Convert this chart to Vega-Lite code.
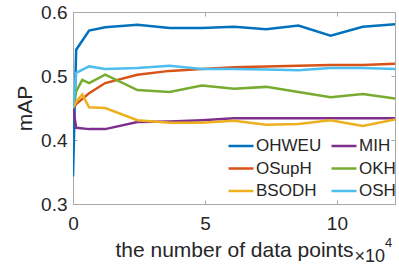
{
  "$schema": "https://vega.github.io/schema/vega-lite/v6.json",
  "width": 322,
  "height": 192,
  "autosize": "none",
  "padding": {"left": 73, "top": 12, "right": 4, "bottom": 62},
  "config": {
    "font": "Liberation Sans",
    "view": {"stroke": "#a8a8a8", "strokeWidth": 1},
    "axis": {
      "domainColor": "#a8a8a8",
      "tickColor": "#a8a8a8",
      "labelColor": "#262626",
      "titleColor": "#262626",
      "labelFont": "Liberation Sans",
      "titleFont": "Liberation Sans",
      "labelFontSize": 19,
      "titleFontSize": 21,
      "titleFontWeight": "normal",
      "grid": false,
      "tickSize": -4
    },
    "legend": {
      "labelFont": "Liberation Sans",
      "labelFontSize": 17,
      "labelColor": "#262626"
    }
  },
  "resolve": {"axis": {"x": "independent", "y": "independent"}},
  "datasets": {
    "lines": [
      {"x": 0, "y": 0.343, "method": "OHWEU"},
      {"x": 1200, "y": 0.541, "method": "OHWEU"},
      {"x": 6100, "y": 0.571, "method": "OHWEU"},
      {"x": 12200, "y": 0.576, "method": "OHWEU"},
      {"x": 24400, "y": 0.58, "method": "OHWEU"},
      {"x": 36600, "y": 0.575, "method": "OHWEU"},
      {"x": 48800, "y": 0.575, "method": "OHWEU"},
      {"x": 61000, "y": 0.577, "method": "OHWEU"},
      {"x": 73200, "y": 0.573, "method": "OHWEU"},
      {"x": 85400, "y": 0.579, "method": "OHWEU"},
      {"x": 97600, "y": 0.563, "method": "OHWEU"},
      {"x": 109800, "y": 0.577, "method": "OHWEU"},
      {"x": 122000, "y": 0.581, "method": "OHWEU"},

      {"x": 0, "y": 0.452, "method": "MIH"},
      {"x": 1200, "y": 0.419, "method": "MIH"},
      {"x": 6100, "y": 0.417, "method": "MIH"},
      {"x": 12200, "y": 0.417, "method": "MIH"},
      {"x": 24400, "y": 0.428, "method": "MIH"},
      {"x": 36600, "y": 0.429, "method": "MIH"},
      {"x": 48800, "y": 0.431, "method": "MIH"},
      {"x": 61000, "y": 0.434, "method": "MIH"},
      {"x": 73200, "y": 0.434, "method": "MIH"},
      {"x": 85400, "y": 0.434, "method": "MIH"},
      {"x": 97600, "y": 0.434, "method": "MIH"},
      {"x": 109800, "y": 0.434, "method": "MIH"},
      {"x": 122000, "y": 0.434, "method": "MIH"},

      {"x": 0, "y": 0.45, "method": "OSupH"},
      {"x": 1200, "y": 0.456, "method": "OSupH"},
      {"x": 6100, "y": 0.473, "method": "OSupH"},
      {"x": 12200, "y": 0.489, "method": "OSupH"},
      {"x": 24400, "y": 0.502, "method": "OSupH"},
      {"x": 36600, "y": 0.508, "method": "OSupH"},
      {"x": 48800, "y": 0.511, "method": "OSupH"},
      {"x": 61000, "y": 0.5135, "method": "OSupH"},
      {"x": 73200, "y": 0.515, "method": "OSupH"},
      {"x": 85400, "y": 0.516, "method": "OSupH"},
      {"x": 97600, "y": 0.517, "method": "OSupH"},
      {"x": 109800, "y": 0.517, "method": "OSupH"},
      {"x": 122000, "y": 0.519, "method": "OSupH"},

      {"x": 0, "y": 0.45, "method": "OKH"},
      {"x": 1200, "y": 0.476, "method": "OKH"},
      {"x": 3500, "y": 0.494, "method": "OKH"},
      {"x": 6100, "y": 0.489, "method": "OKH"},
      {"x": 12200, "y": 0.502, "method": "OKH"},
      {"x": 24400, "y": 0.478, "method": "OKH"},
      {"x": 36600, "y": 0.475, "method": "OKH"},
      {"x": 48800, "y": 0.485, "method": "OKH"},
      {"x": 61000, "y": 0.48, "method": "OKH"},
      {"x": 73200, "y": 0.483, "method": "OKH"},
      {"x": 85400, "y": 0.475, "method": "OKH"},
      {"x": 97600, "y": 0.467, "method": "OKH"},
      {"x": 109800, "y": 0.472, "method": "OKH"},
      {"x": 122000, "y": 0.465, "method": "OKH"},

      {"x": 0, "y": 0.45, "method": "BSODH"},
      {"x": 1200, "y": 0.46, "method": "BSODH"},
      {"x": 3500, "y": 0.471, "method": "BSODH"},
      {"x": 6100, "y": 0.451, "method": "BSODH"},
      {"x": 12200, "y": 0.45, "method": "BSODH"},
      {"x": 24400, "y": 0.431, "method": "BSODH"},
      {"x": 36600, "y": 0.427, "method": "BSODH"},
      {"x": 48800, "y": 0.427, "method": "BSODH"},
      {"x": 61000, "y": 0.43, "method": "BSODH"},
      {"x": 73200, "y": 0.424, "method": "BSODH"},
      {"x": 85400, "y": 0.425, "method": "BSODH"},
      {"x": 97600, "y": 0.431, "method": "BSODH"},
      {"x": 109800, "y": 0.422, "method": "BSODH"},
      {"x": 122000, "y": 0.432, "method": "BSODH"},

      {"x": 0, "y": 0.45, "method": "OSH"},
      {"x": 1200, "y": 0.505, "method": "OSH"},
      {"x": 6100, "y": 0.515, "method": "OSH"},
      {"x": 12200, "y": 0.511, "method": "OSH"},
      {"x": 24400, "y": 0.5125, "method": "OSH"},
      {"x": 36600, "y": 0.516, "method": "OSH"},
      {"x": 48800, "y": 0.511, "method": "OSH"},
      {"x": 61000, "y": 0.511, "method": "OSH"},
      {"x": 73200, "y": 0.51, "method": "OSH"},
      {"x": 85400, "y": 0.509, "method": "OSH"},
      {"x": 97600, "y": 0.5125, "method": "OSH"},
      {"x": 109800, "y": 0.5125, "method": "OSH"},
      {"x": 122000, "y": 0.511, "method": "OSH"}
    ],
    "mult": [{"x": 122000, "y": 0.3, "base": "×10", "exp": "4"}]
  },
  "layer": [
    {
      "data": {"name": "lines"},
      "mark": {"type": "line", "strokeWidth": 2.5, "clip": true},
      "encoding": {
        "x": {
          "field": "x", "type": "quantitative",
          "scale": {"domain": [0, 122000], "nice": false},
          "axis": {"title": "the number of data points", "values": [0, 50000, 100000], "labelExpr": "datum.value / 10000", "labelPadding": 14, "titlePadding": 6, "labelFlush": false}
        },
        "y": {
          "field": "y", "type": "quantitative",
          "scale": {"domain": [0.3, 0.6], "nice": false, "zero": false},
          "axis": {"title": "mAP", "values": [0.3, 0.4, 0.5, 0.6], "format": ".1f", "labelPadding": 10, "titlePadding": 5}
        },
        "color": {
          "field": "method", "type": "nominal",
          "scale": {
            "domain": ["OHWEU", "OSupH", "BSODH", "MIH", "OKH", "OSH"],
            "range": ["#0072BD", "#D95319", "#EDB120", "#7E2F8E", "#77AC30", "#4DBEEE"]
          },
          "legend": {
            "title": null,
            "orient": "none",
            "legendX": 154,
            "legendY": 120,
            "columns": 2,
            "symbolType": "stroke",
            "symbolSize": 625,
            "symbolStrokeWidth": 2.5,
            "labelOffset": 1,
            "columnPadding": 4,
            "rowPadding": 0.5,
            "padding": 0
          }
        },
        "sort": {"field": "x"}
      }
    },
    {
      "data": {"name": "lines"},
      "mark": {"type": "point", "opacity": 0},
      "encoding": {
        "x": {"field": "x", "type": "quantitative", "axis": {"orient": "top", "title": null, "labels": false, "values": [0, 50000, 100000], "domain": false}},
        "y": {"field": "y", "type": "quantitative", "axis": {"orient": "right", "title": null, "labels": false, "values": [0.3, 0.4, 0.5, 0.6], "domain": false}}
      }
    },
    {
      "data": {"name": "mult"},
      "mark": {"type": "text", "align": "right", "baseline": "alphabetic", "dx": -10, "dy": 58, "fontSize": 18, "color": "#262626", "clip": false},
      "encoding": {
        "x": {"field": "x", "type": "quantitative", "axis": null},
        "y": {"field": "y", "type": "quantitative", "axis": null},
        "text": {"field": "base"}
      }
    },
    {
      "data": {"name": "mult"},
      "mark": {"type": "text", "align": "left", "baseline": "alphabetic", "dx": -10, "dy": 43, "fontSize": 13, "color": "#262626", "clip": false},
      "encoding": {
        "x": {"field": "x", "type": "quantitative", "axis": null},
        "y": {"field": "y", "type": "quantitative", "axis": null},
        "text": {"field": "exp"}
      }
    }
  ]
}
